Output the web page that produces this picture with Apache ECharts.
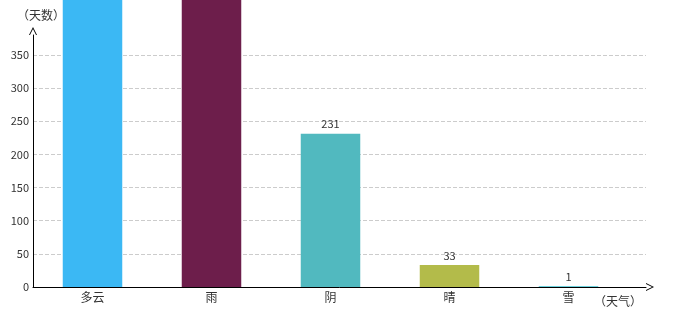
<!DOCTYPE html>
<html>
<head>
<meta charset="utf-8">
<script src="https://cdn.jsdelivr.net/npm/echarts@6/dist/echarts.min.js"></script>
<style>html,body{margin:0;padding:0;background:#fff}#c{width:680px;height:320px}</style>
</head>
<body>
<div id="c"></div>
<script>
var categories = ['多云', '雨', '阴', '晴', '雪'];
var days = [460, 480, 231, 33, 1];
var barColors = ['#3bb8f4', '#6d1e4b', '#51b9bf', '#b3bb4a', '#3cc3d2'];
var yTickMax = 350;
var yTickStep = 50;
var yAxisName = '（天数）';
var xAxisName = '（天气）';

var chevron = 'path://M0,10 L5,0 L10,10 L8.8,10 L5,2.4 L1.2,10 Z';
var font = '"Noto Sans CJK SC", "DejaVu Sans", sans-serif';
var chart = echarts.init(document.getElementById('c'));
chart.setOption({
  animation: false,
  textStyle: { fontFamily: font },
  grid: [
    { left: 33, right: 52, top: 35, bottom: 33 },
    { left: 33, right: 34, top: 55, bottom: 33 }
  ],
  xAxis: [
    {
      gridIndex: 0, type: 'category', data: categories,
      axisLine: { show: false }, axisTick: { show: false },
      axisLabel: { color: '#333', fontSize: 12, margin: 4, fontFamily: font }
    },
    {
      gridIndex: 1, type: 'value', min: 0, max: 1,
      axisLine: { show: true, lineStyle: { color: '#000', width: 1 }, symbol: ['none', chevron], symbolSize: [8, 10], symbolOffset: [0, 4] },
      axisTick: { show: false }, axisLabel: { show: false }, splitLine: { show: false },
      name: xAxisName, nameLocation: 'end', nameGap: -52,
      nameTextStyle: { color: '#333', fontSize: 12, verticalAlign: 'top', lineHeight: 28, fontFamily: font }
    }
  ],
  yAxis: [
    {
      gridIndex: 0, type: 'value', min: 0, max: 380, interval: yTickStep,
      axisLine: { show: true, lineStyle: { color: '#000', width: 1 }, symbol: ['none', chevron], symbolSize: [8, 10], symbolOffset: [0, 4] },
      axisTick: { show: false },
      axisLabel: { color: '#333', fontSize: 11, margin: 4, showMaxLabel: false },
      splitLine: { show: false },
      name: yAxisName, nameLocation: 'end', nameGap: 14,
      nameTextStyle: { color: '#333', fontSize: 12, align: 'left', padding: [0, 0, 0, -16], fontFamily: font }
    },
    {
      gridIndex: 1, type: 'value', min: 0, max: yTickMax, interval: yTickStep,
      axisLine: { show: false }, axisTick: { show: false }, axisLabel: { show: false },
      splitLine: { show: true, lineStyle: { color: '#ccc', type: 'dashed', width: 1 } }
    }
  ],
  series: [
    {
      type: 'bar', xAxisIndex: 0, yAxisIndex: 0, barWidth: '50%', clip: false,
      data: days.map(function (v, i) { return { value: v, itemStyle: { color: barColors[i] } }; }),
      label: { show: true, position: 'top', color: '#333', fontSize: 11, distance: 4 }
    }
  ]
});
</script>
</body>
</html>
